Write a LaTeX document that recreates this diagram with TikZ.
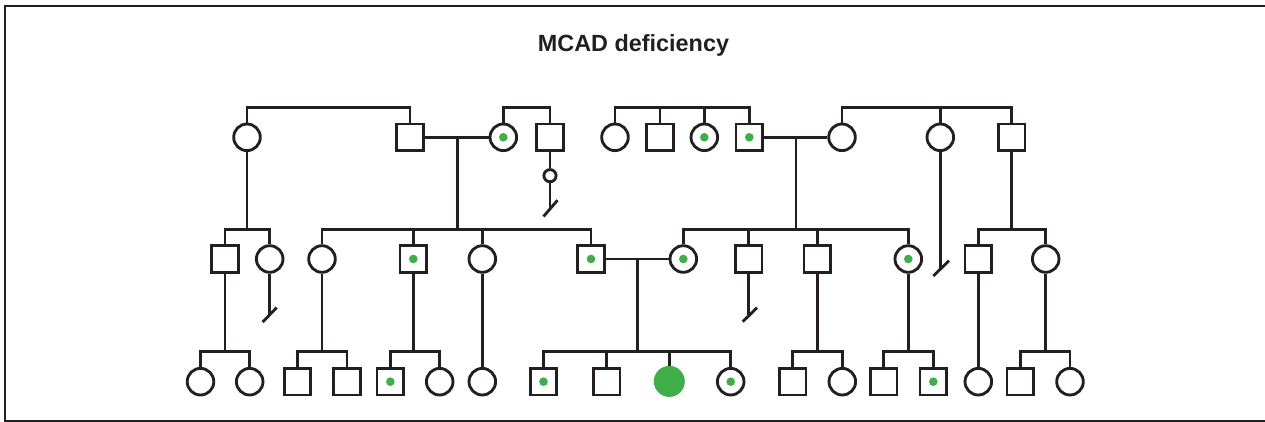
\documentclass[tikz,border=0pt]{standalone}
\usepackage{fontspec}
\setmainfont{Liberation Sans}
\usetikzlibrary{calc}
\definecolor{ink}{HTML}{231F20}
\definecolor{mcgreen}{HTML}{3FAE49}
\begin{document}
\begin{tikzpicture}[x=1pt,y=-1pt,
  ln/.style={line width=2.85pt, draw=ink},
  fem/.style={circle, draw=ink, line width=2.85pt, minimum size=26.6pt, inner sep=0pt, fill=white},
  mal/.style={rectangle, draw=ink, line width=2.85pt, minimum size=26.6pt, inner sep=0pt, fill=white},
  carrier/.style={path picture={\fill[mcgreen] (path picture bounding box.center) circle (4.3pt);}},
  affected/.style={circle, fill=mcgreen, minimum size=31pt, inner sep=0pt},
  slashmark/.style={line width=2.85pt, draw=ink}
]
\useasboundingbox (0,0) rectangle (1265,422);
% frame (open on the right)
\draw[line width=2.2pt, draw=ink] (1270,6) -- (5,6) -- (5,421) -- (1270,421);

\node[font=\bfseries\fontsize{23.4}{26}\selectfont, text=ink, anchor=base, inner sep=0pt] (title) at (633.5,52) {MCAD deficiency};

% levels of the sibship bars
\coordinate (sA) at (0,107.7);
\coordinate (sB) at (0,229.5);
\coordinate (sC) at (0,351.8);

% ---------- generation I ----------
\node[fem] (a1) at (247,137.3) {};
\node[mal] (a2) at (410,137.3) {};
\node[fem,carrier] (a3) at (503.3,137.3) {};
\node[mal] (a4) at (550,137.3) {};
\node[fem] (a5) at (615,137.3) {};
\node[mal] (a6) at (660,137.3) {};
\node[fem,carrier] (a7) at (704.3,137.3) {};
\node[mal,carrier] (a8) at (749.3,137.3) {};
\node[fem] (a9) at (842,137.3) {};
\node[fem] (a10) at (940.3,137.3) {};
\node[mal] (a11) at (1011.7,137.3) {};
\node[circle, draw=ink, line width=2.85pt, minimum size=12.2pt, inner sep=0pt] (s1) at (550,175.7) {};

% ---------- generation II ----------
\node[mal] (b1) at (225,259) {};
\node[fem] (b2) at (269.7,259) {};
\node[fem] (b3) at (322,259) {};
\node[mal,carrier] (b4) at (413.3,259) {};
\node[fem] (b5) at (482.3,259) {};
\node[mal,carrier] (b6) at (591,259) {};
\node[fem,carrier] (b7) at (683.3,259) {};
\node[mal] (b8) at (748.7,259) {};
\node[mal] (b9) at (817.3,259) {};
\node[fem,carrier] (b10) at (908.3,259) {};
\node[mal] (b11) at (978.3,259) {};
\node[fem] (b12) at (1045.7,259) {};

% ---------- generation III ----------
\node[fem] (c1) at (200.5,381.7) {};
\node[fem] (c2) at (249.7,381.7) {};
\node[mal] (c3) at (297.5,381.7) {};
\node[mal] (c4) at (347,381.7) {};
\node[mal,carrier] (c5) at (390.3,381.7) {};
\node[fem] (c6) at (439.7,381.7) {};
\node[fem] (c7) at (482.3,381.7) {};
\node[mal,carrier] (c8) at (543.5,381.7) {};
\node[mal] (c9) at (606.7,381.7) {};
\node[affected] (c10) at (669.3,381.4) {};
\node[fem,carrier] (c11) at (730.7,381.7) {};
\node[mal] (c12) at (792.7,381.7) {};
\node[fem] (c13) at (842.3,381.7) {};
\node[mal] (c14) at (883.7,381.7) {};
\node[mal,carrier] (c15) at (933.3,381.7) {};
\node[fem] (c16) at (978.3,381.7) {};
\node[mal] (c17) at (1020.3,381.7) {};
\node[fem] (c18) at (1070,381.7) {};

% points where lines of descent meet
\coordinate (m1) at (457.3,137.3);
\coordinate (m2) at (796,137.3);
\coordinate (m3) at (637.3,259);
\coordinate (x1) at (550,208.5);
\coordinate (x2) at (269.7,314.7);
\coordinate (x3) at (749.8,314.7);
\coordinate (x4) at (940.3,268.3);

% ---------- connectors, generation I ----------
\draw[ln] (a1.north) -- (a1.north |- sA) -| (a2.north);
\draw[ln] (a3.north) -- (a3.north |- sA) -| (a4.north);
\draw[ln] (a5.north) -- (a5.north |- sA) -| (a8.north);
\draw[ln] (a6.north) -- (a6.north |- sA);
\draw[ln] (a7.north) -- (a7.north |- sA);
\draw[ln] (a9.north) -- (a9.north |- sA) -| (a11.north);
\draw[ln] (a10.north) -- (a10.north |- sA);
\draw[ln] (a2.east) -- (a3.west);
\draw[ln] (a8.east) -- (a9.west);
\draw[ln] (a4.south) -- (s1.north);
\draw[ln] (s1.south) -- (x1);
\draw[slashmark] ($(x1)+(-6.5,8)$) -- ($(x1)+(7.5,-8.3)$);

% ---------- connectors, generation II ----------
\draw[ln] (a1.south) -- (a1.south |- sB);
\draw[ln] (b1.north) -- (b1.north |- sB) -| (b2.north);
\draw[ln] (m1) -- (m1 |- sB);
\draw[ln] (b3.north) -- (b3.north |- sB) -| (b6.north);
\draw[ln] (b4.north) -- (b4.north |- sB);
\draw[ln] (b5.north) -- (b5.north |- sB);
\draw[ln] (m2) -- (m2 |- sB);
\draw[ln] (b7.north) -- (b7.north |- sB) -| (b10.north);
\draw[ln] (b8.north) -- (b8.north |- sB);
\draw[ln] (b9.north) -- (b9.north |- sB);
\draw[ln] (a11.south) -- (a11.south |- sB);
\draw[ln] (b11.north) -- (b11.north |- sB) -| (b12.north);
\draw[ln] (a10.south) -- (x4);
\draw[slashmark] ($(x4)+(-7,7.7)$) -- ($(x4)+(8.7,-7.6)$);
\draw[ln] (b2.south) -- (x2);
\draw[slashmark] ($(x2)+(-7,7.3)$) -- ($(x2)+(7,-7.2)$);
\draw[ln] (b6.east) -- (b7.west);
\draw[ln] (b8.south) -- (b8.south |- x3);
\draw[slashmark] ($(x3)+(-7.1,7)$) -- ($(x3)+(7.2,-7)$);

% ---------- connectors, generation III ----------
\draw[ln] (b1.south) -- (b1.south |- sC);
\draw[ln] (c1.north) -- (c1.north |- sC) -| (c2.north);
\draw[ln] (b3.south) -- (b3.south |- sC);
\draw[ln] (c3.north) -- (c3.north |- sC) -| (c4.north);
\draw[ln] (b4.south) -- (b4.south |- sC);
\draw[ln] (c5.north) -- (c5.north |- sC) -| (c6.north);
\draw[ln] (b5.south) -- (c7.north);
\draw[ln] (m3) -- (m3 |- sC);
\draw[ln] (c8.north) -- (c8.north |- sC) -| (c11.north);
\draw[ln] (c9.north) -- (c9.north |- sC);
\draw[ln] (c10.north) -- (c10.north |- sC);
\draw[ln] (b9.south) -- (b9.south |- sC);
\draw[ln] (c12.north) -- (c12.north |- sC) -| (c13.north);
\draw[ln] (b10.south) -- (b10.south |- sC);
\draw[ln] (c14.north) -- (c14.north |- sC) -| (c15.north);
\draw[ln] (b11.south) -- (c16.north);
\draw[ln] (b12.south) -- (b12.south |- sC);
\draw[ln] (c17.north) -- (c17.north |- sC) -| (c18.north);
\end{tikzpicture}
\end{document}
